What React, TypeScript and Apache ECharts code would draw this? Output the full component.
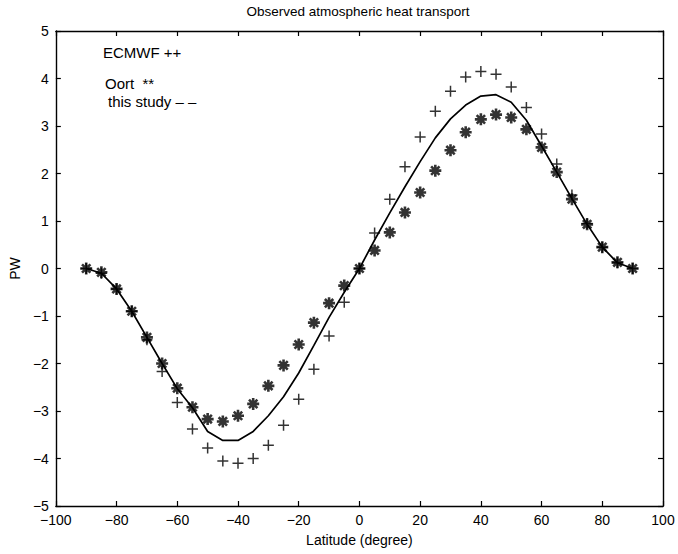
import React, { useEffect, useRef } from "react";
import * as echarts from "echarts";

const latitudes = [-90, -85, -80, -75, -70, -65, -60, -55, -50, -45, -40, -35, -30, -25, -20, -15, -10, -5, 0, 5, 10, 15, 20, 25, 30, 35, 40, 45, 50, 55, 60, 65, 70, 75, 80, 85, 90];
const ecmwf = [0, -0.1, -0.43, -0.9, -1.5, -2.17, -2.82, -3.38, -3.78, -4.05, -4.1, -4.0, -3.72, -3.3, -2.75, -2.12, -1.42, -0.71, 0, 0.75, 1.46, 2.14, 2.77, 3.31, 3.73, 4.03, 4.15, 4.09, 3.82, 3.39, 2.83, 2.2, 1.55, 0.95, 0.45, 0.12, 0];
const oort = [0, -0.08, -0.43, -0.9, -1.45, -2.0, -2.52, -2.92, -3.17, -3.22, -3.1, -2.85, -2.47, -2.04, -1.6, -1.14, -0.73, -0.36, 0, 0.38, 0.76, 1.18, 1.6, 2.06, 2.49, 2.87, 3.14, 3.24, 3.18, 2.93, 2.55, 2.03, 1.46, 0.93, 0.45, 0.13, 0];
const thisStudy = [0, -0.1, -0.43, -0.9, -1.45, -2.0, -2.53, -2.93, -3.43, -3.62, -3.62, -3.43, -3.1, -2.7, -2.2, -1.62, -1.03, -0.5, 0, 0.6, 1.17, 1.72, 2.25, 2.75, 3.15, 3.44, 3.63, 3.66, 3.5, 3.12, 2.58, 2.03, 1.47, 0.93, 0.45, 0.12, 0];

const titleText = "Observed atmospheric heat transport";
const xName = "Latitude (degree)";
const yName = "PW";
const legendTexts = ["ECMWF ++", "Oort  **", "this study \u2013 \u2013"];

const FONT = "'Liberation Sans', Arial, Helvetica, sans-serif";
const PLUS = "path://M5,0 L5,10 M0,5 L10,5";
const STAR = "path://M6,0 L6,12 M0,6 L12,6 M1.8,1.8 L10.2,10.2 M10.2,1.8 L1.8,10.2";

const fmt = (v: number) => String(v).replace("-", "\u2212");

export default function App() {
  const ref = useRef<HTMLDivElement>(null);
  useEffect(() => {
    if (!ref.current) return;
    const chart = echarts.init(ref.current, undefined, { renderer: "svg" });
    const axisLine = { show: true, onZero: false, lineStyle: { color: "#000", width: 1.4 } };
    const tick = { show: true, inside: true, length: 5, lineStyle: { color: "#000", width: 1.2 } };
    const label = { color: "#000", fontSize: 14, fontFamily: FONT, formatter: fmt };
    const pairs = (ys: number[]) => latitudes.map((x, i) => [x, ys[i]]);
    chart.setOption({
      animation: false,
      backgroundColor: "#fff",
      grid: { left: 53, right: 15, top: 31, bottom: 48, containLabel: false },
      xAxis: [
        {
          type: "value", min: -100, max: 100, interval: 20, position: "bottom",
          axisLine, axisTick: tick, splitLine: { show: false },
          axisLabel: { ...label, margin: 7 },
          name: xName, nameLocation: "middle", nameGap: 27,
          nameTextStyle: { color: "#000", fontSize: 14, fontFamily: FONT },
        },
        {
          type: "value", min: -100, max: 100, interval: 20, position: "top",
          axisLine, axisTick: tick, splitLine: { show: false }, axisLabel: { show: false },
        },
      ],
      yAxis: [
        {
          type: "value", min: -5, max: 5, interval: 1, position: "left",
          axisLine, axisTick: tick, splitLine: { show: false },
          axisLabel: { ...label, margin: 7 },
          name: yName, nameLocation: "middle", nameGap: 30, nameRotate: 90,
          nameTextStyle: { color: "#000", fontSize: 14, fontFamily: FONT },
        },
        {
          type: "value", min: -5, max: 5, interval: 1, position: "right",
          axisLine, axisTick: tick, splitLine: { show: false }, axisLabel: { show: false },
        },
      ],
      series: [
        {
          type: "line", name: "this study", data: pairs(thisStudy), showSymbol: false, symbol: "none",
          lineStyle: { color: "#000", width: 1.7 }, z: 2,
        },
        {
          type: "scatter", name: "ECMWF", data: pairs(ecmwf), symbol: PLUS, symbolSize: 11,
          itemStyle: { color: "none", borderColor: "#000", borderWidth: 1.5 }, z: 3,
        },
        {
          type: "scatter", name: "Oort", data: pairs(oort), symbol: STAR, symbolSize: 12,
          itemStyle: { color: "none", borderColor: "#000", borderWidth: 2.6 }, z: 4,
        },
      ],
      graphic: [
        {
          type: "text", x: 358, y: 11,
          style: { text: titleText, textAlign: "center", textVerticalAlign: "middle", font: `13.5px ${FONT}`, fill: "#000" },
        },
        {
          type: "text", x: 103, y: 52,
          style: { text: legendTexts[0], textVerticalAlign: "middle", font: `15px ${FONT}`, fill: "#000" },
        },
        {
          type: "text", x: 105, y: 83,
          style: { text: legendTexts[1], textVerticalAlign: "middle", font: `15px ${FONT}`, fill: "#000" },
        },
        {
          type: "text", x: 108, y: 101,
          style: { text: legendTexts[2], textVerticalAlign: "middle", font: `15px ${FONT}`, fill: "#000" },
        },
      ],
    });
    return () => chart.dispose();
  }, []);
  return <div ref={ref} style={{ position: "fixed", left: 0, top: 0, width: 678, height: 554 }} />;
}
